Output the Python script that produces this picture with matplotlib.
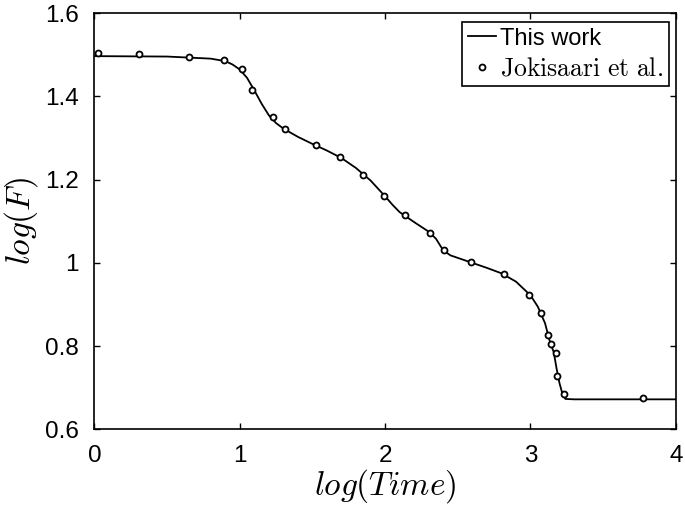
import matplotlib
matplotlib.use("Agg")
import matplotlib.pyplot as plt

plt.rcParams['mathtext.fontset'] = 'cm'
plt.rcParams['font.family'] = ['Liberation Sans', 'DejaVu Sans']

# simulated curve ("This work")
work_x = [0.0, 0.5, 0.8, 0.9, 0.95, 1.0, 1.05, 1.1, 1.15, 1.2, 1.25, 1.3, 1.4, 1.5,
          1.6, 1.7, 1.8, 1.9, 2.0, 2.05, 2.1, 2.15, 2.2, 2.3, 2.35, 2.4, 2.45, 2.5,
          2.6, 2.7, 2.8, 2.9, 3.0, 3.05, 3.1, 3.13, 3.16, 3.18, 3.2, 3.22, 3.24,
          3.3, 4.0]
work_y = [1.497, 1.496, 1.491, 1.485, 1.477, 1.465, 1.445, 1.415, 1.383, 1.355,
          1.336, 1.323, 1.303, 1.286, 1.270, 1.252, 1.228, 1.198, 1.160, 1.140,
          1.122, 1.110, 1.098, 1.075, 1.058, 1.030, 1.018, 1.012, 1.000, 0.988,
          0.975, 0.955, 0.922, 0.895, 0.855, 0.815, 0.785, 0.745, 0.710, 0.685,
          0.673, 0.672, 0.672]

# reference data (Jokisaari et al.)
jok_x = [0.028, 0.31, 0.65, 0.894, 1.016, 1.087, 1.227, 1.314, 1.525, 1.690,
         1.850, 1.993, 2.136, 2.308, 2.402, 2.591, 2.817, 2.991, 3.071, 3.122,
         3.142, 3.172, 3.179, 3.229, 3.773]
jok_y = [1.504, 1.501, 1.496, 1.488, 1.466, 1.416, 1.350, 1.321, 1.284, 1.255,
         1.211, 1.160, 1.115, 1.073, 1.032, 1.002, 0.974, 0.923, 0.880, 0.826,
         0.806, 0.784, 0.727, 0.684, 0.676]

fig = plt.figure(figsize=(6.85, 5.09), dpi=100)
ax = fig.add_axes([0.1377, 0.1566, 0.849, 0.8173])

ax.plot(work_x, work_y, color='black', linewidth=1.3, label='This work')
ax.plot(jok_x, jok_y, linestyle='none', marker='o', markersize=4.3,
        markerfacecolor='white', markeredgecolor='black', markeredgewidth=1.3,
        label=r'$\mathrm{Jokisaari\ et\ al.}$')

ax.set_xlim(0, 4)
ax.set_ylim(0.6, 1.6)
ax.set_xticks([0, 1, 2, 3, 4])
ax.set_yticks([0.6, 0.8, 1.0, 1.2, 1.4, 1.6])
ax.set_yticklabels(['0.6', '0.8', '1', '1.2', '1.4', '1.6'])
ax.tick_params(direction='in', top=True, right=True, labelsize=17.5,
               length=4, width=1.0)
ax.tick_params(axis='x', pad=11.5)
ax.tick_params(axis='y', pad=11)
for s in ax.spines.values():
    s.set_linewidth(1.2)

ax.set_xlabel(r'$log(Time)$', fontsize=24, labelpad=0)
ax.set_ylabel(r'$log(F)$', fontsize=24, labelpad=4)

leg = ax.legend(loc='upper right', bbox_to_anchor=(0.988, 0.980),
                borderaxespad=0, fontsize=17, frameon=True, fancybox=False,
                edgecolor='black', framealpha=1, handlelength=1.2,
                handletextpad=0.15, borderpad=0.25, labelspacing=0.3)
leg.get_frame().set_linewidth(1.2)
leg.get_texts()[1].set_fontsize(18.5)

fig.savefig('out.png', dpi=100)
